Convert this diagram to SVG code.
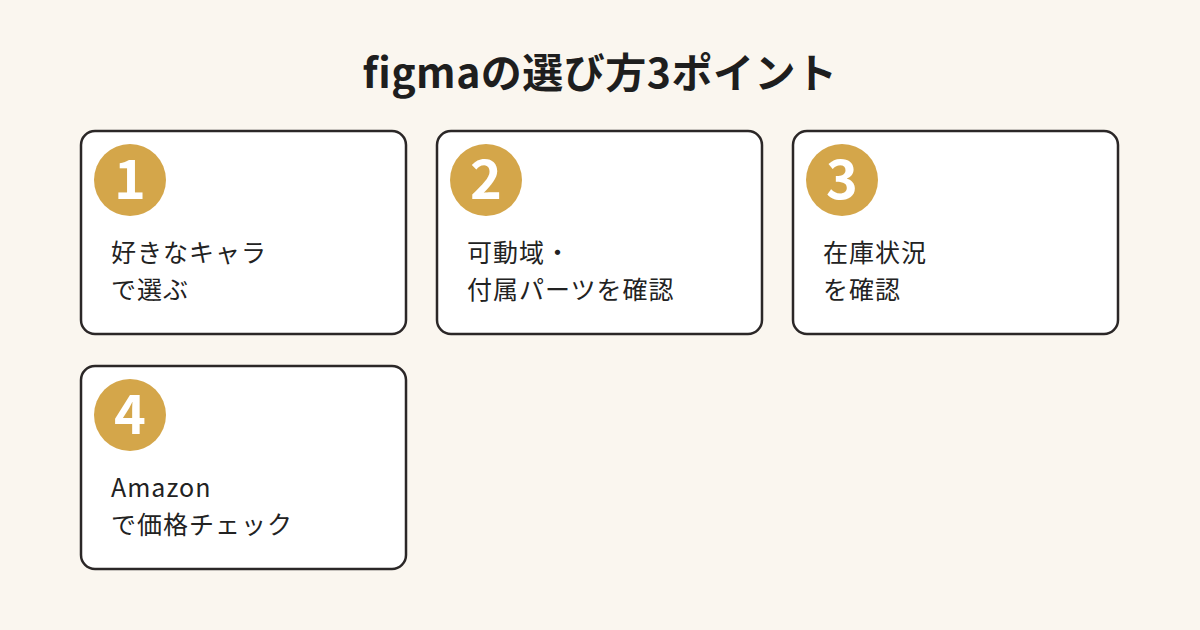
<svg xmlns="http://www.w3.org/2000/svg" width="1200" height="630" viewBox="0 0 1200 630">
<style>
.card{fill:#ffffff;stroke:#2b2727;stroke-width:2.5}
.badge{fill:#d4a64a}
.num{fill:#ffffff;font-family:"Noto Sans CJK JP","Noto Sans",sans-serif;font-weight:700;font-size:54px;text-anchor:middle}
.lbl{fill:#222222;font-family:"Noto Sans CJK JP","Noto Sans",sans-serif;font-size:25px;letter-spacing:1px}
.title{fill:#1e1e1e;font-family:"Noto Sans CJK JP","Noto Sans",sans-serif;font-weight:700;font-size:41px;letter-spacing:0.5px;text-anchor:middle}
</style>
<rect width="1200" height="630" fill="#faf6ef"/>
<text class="title" x="600" y="88">figmaの選び方3ポイント</text>
<g id="node1">
<rect class="card" x="81" y="131" width="325" height="203" rx="14"/>
<circle class="badge" cx="130" cy="180" r="36"/>
<text class="num" x="130" y="199">1</text>
<text class="lbl" x="111" y="262">好きなキャラ</text>
<text class="lbl" x="111" y="299">で選ぶ</text>
</g>
<g id="node2">
<rect class="card" x="437" y="131" width="325" height="203" rx="14"/>
<circle class="badge" cx="486" cy="180" r="36"/>
<text class="num" x="486" y="199">2</text>
<text class="lbl" x="467" y="262">可動域・</text>
<text class="lbl" x="467" y="299">付属パーツを確認</text>
</g>
<g id="node3">
<rect class="card" x="793" y="131" width="325" height="203" rx="14"/>
<circle class="badge" cx="842" cy="180" r="36"/>
<text class="num" x="842" y="199">3</text>
<text class="lbl" x="823" y="262">在庫状況</text>
<text class="lbl" x="823" y="299">を確認</text>
</g>
<g id="node4">
<rect class="card" x="81" y="366" width="325" height="203" rx="14"/>
<circle class="badge" cx="130" cy="415" r="36"/>
<text class="num" x="130" y="434">4</text>
<text class="lbl" x="111" y="497">Amazon</text>
<text class="lbl" x="111" y="534">で価格チェック</text>
</g>
<g id="connectors"/>
</svg>
